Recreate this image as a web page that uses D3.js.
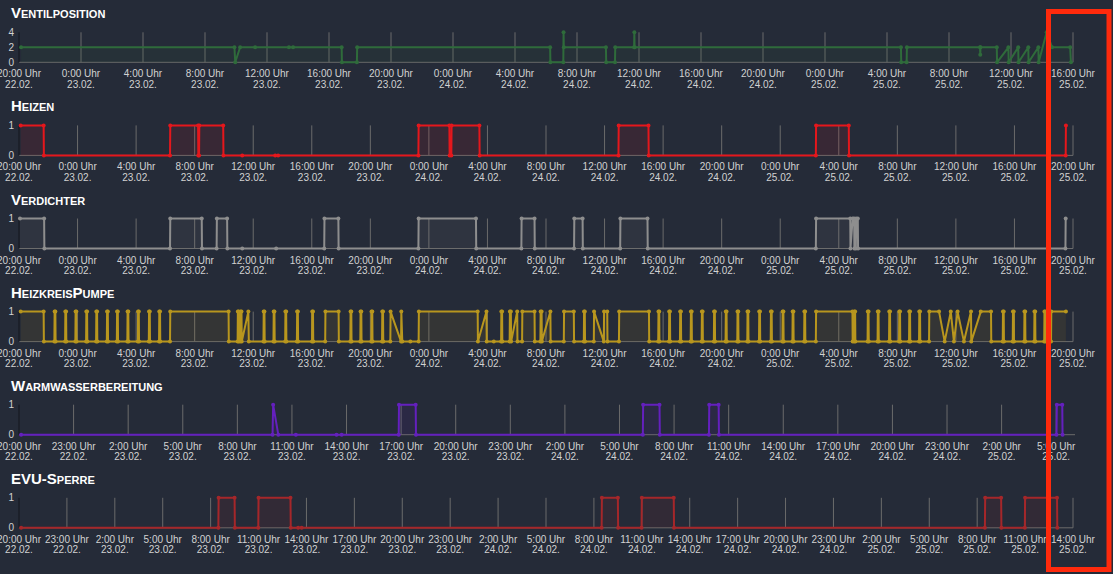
<!DOCTYPE html>
<html><head><meta charset="utf-8">
<script src="https://cdn.jsdelivr.net/npm/d3@7"></script>
<style>
body{margin:0;background:#252b38;}
svg{display:block;font-family:"Liberation Sans",Arial,sans-serif;}
</style></head>
<body><svg id="c" width="1113" height="574"></svg>
<script>
// ---------- DATA (times: "DD HH:MM" in February) ----------
const titles = ["Ventilposition","Heizen","Verdichter","HeizkreisPumpe","Warmwasserbereitung","EVU-Sperre"];
const yTicksVentil = [0,2,4];
const yTicksBinary = [0,1];
const domains = [
  ["22 20:00","25 16:00"],
  ["22 20:00","25 20:00"],
  ["22 20:00","25 20:00"],
  ["22 20:00","25 20:00"],
  ["22 20:00","25 06:02"],
  ["22 20:00","25 14:00"]
];
const tickStepHours = [4,4,4,4,3,3];

const ventil = [
["22 20:08",2],["23 09:54",2],["23 09:57",0],["23 10:16",2],["23 11:14",2],["23 13:25",2],["23 13:41",2],
["23 16:49",2],["23 16:50",0],["23 17:48",0],["23 17:49",2],["24 06:16",2],["24 06:17",0],["24 07:07",0],
["24 07:08",4],["24 07:09",2],["24 09:52",2],["24 09:53",0],["24 10:27",0],["24 10:28",2],["24 11:41",2],
["24 11:42",4],["24 11:43",2],["25 04:54",2],["25 04:55",0],["25 05:16",0],["25 05:17",2],["25 10:00",2],
["25 10:01",1],["25 10:02",2],["25 11:05",2],["25 11:06",0],["25 11:50",2],["25 11:51",0],["25 12:28",2],
["25 12:29",0],["25 13:07",2],["25 13:08",0],["25 13:46",2],["25 13:47",0],["25 14:18",4],["25 14:39",2],
["25 15:49",2],["25 15:52",0]
];
const heizen = [
["22 20:07",1],["22 21:41",1],["22 21:42",0],["23 06:19",0],["23 06:20",1],["23 08:14",1],["23 08:15",0],
["23 08:18",0],["23 08:19",1],["23 09:57",1],["23 09:58",0],["23 11:15",0],["23 13:30",0],["23 13:42",0],
["23 23:17",0],["23 23:18",1],["24 01:24",1],["24 01:25",0],["24 01:32",0],["24 01:33",1],["24 03:27",1],
["24 03:28",0],["24 12:57",0],["24 12:58",1],["24 15:00",1],["24 15:01",0],["25 02:26",0],["25 02:27",1],
["25 04:41",1],["25 04:42",0],["25 19:30",0],["25 19:31",1]
];
const verdichter = [
["22 20:04",1],["22 21:43",1],["22 21:44",0],["23 06:19",0],["23 06:20",1],["23 08:29",1],["23 08:30",0],
["23 09:30",0],["23 09:31",1],["23 10:13",1],["23 10:14",0],["23 11:15",0],["23 13:34",0],["23 16:51",0],
["23 16:52",1],["23 17:49",1],["23 17:50",0],["23 23:17",0],["23 23:18",1],["24 03:13",1],["24 03:14",0],
["24 06:19",0],["24 06:20",1],["24 07:13",1],["24 07:14",0],["24 09:55",0],["24 09:56",1],["24 10:30",1],
["24 10:31",0],["24 13:04",0],["24 13:05",1],["24 14:56",1],["24 14:57",0],["25 02:26",0],["25 02:27",1],
["25 04:47",1],["25 04:48",0],["25 04:57",1],["25 05:03",1],["25 05:04",0],["25 05:10",0],["25 05:11",1],
["25 05:18",1],["25 05:19",0],["25 19:29",0],["25 19:30",1]
];
const pumpe = [
["22 20:07",1],["22 21:41",1],["22 21:42",0],
["22 22:25",0],["22 22:26",1],["22 22:29",1],["22 22:30",0],
["22 23:09",0],["22 23:10",1],["22 23:13",1],["22 23:14",0],
["22 23:51",0],["22 23:52",1],["22 23:55",1],["22 23:56",0],
["23 00:35",0],["23 00:36",1],["23 00:39",1],["23 00:40",0],
["23 01:16",0],["23 01:17",1],["23 01:20",1],["23 01:21",0],
["23 02:00",0],["23 02:01",1],["23 02:04",1],["23 02:05",0],
["23 02:41",0],["23 02:42",1],["23 02:45",1],["23 02:46",0],
["23 03:24",0],["23 03:25",1],["23 03:28",1],["23 03:29",0],
["23 04:07",0],["23 04:08",1],["23 04:11",1],["23 04:12",0],
["23 04:52",0],["23 04:53",1],["23 04:56",1],["23 04:57",0],
["23 05:34",0],["23 05:35",1],["23 05:38",1],["23 05:39",0],
["23 06:19",0],["23 06:20",1],["23 10:19",1],["23 10:20",0],
["23 10:56",0],["23 10:57",1],["23 11:00",1],["23 11:01",0],
["23 11:07",0],["23 11:08",1],["23 11:12",1],["23 11:13",0],["23 11:40",1],["23 11:42",0],
["23 12:42",0],["23 12:43",1],["23 12:46",1],["23 12:47",0],
["23 13:23",0],["23 13:24",1],["23 13:27",1],["23 13:28",0],
["23 14:11",0],["23 14:12",1],["23 14:15",1],["23 14:16",0],
["23 14:59",0],["23 15:00",1],["23 15:03",1],["23 15:04",0],
["23 16:01",0],["23 16:02",1],["23 16:05",1],["23 16:06",0],
["23 16:55",0],["23 16:56",1],["23 17:50",1],["23 17:51",0],
["23 18:38",0],["23 18:39",1],["23 18:42",1],["23 18:43",0],
["23 19:19",0],["23 19:20",1],["23 19:23",1],["23 19:24",0],
["23 20:04",0],["23 20:05",1],["23 20:08",1],["23 20:09",0],
["23 20:48",0],["23 20:49",1],["23 20:52",1],["23 20:53",0],
["23 21:22",0],["23 21:23",1],["23 22:06",0],["23 22:07",1],["23 22:11",0],
["23 22:44",0],
["23 23:18",0],["23 23:19",1],["24 03:20",1],["24 03:21",0],["24 03:56",1],["24 03:57",0],
["24 04:26",0],
["24 04:56",0],["24 04:57",1],["24 05:00",1],["24 05:01",0],
["24 05:31",0],["24 05:32",1],["24 05:36",1],["24 05:37",0],["24 06:02",1],["24 06:03",0],
["24 06:22",0],["24 06:23",1],["24 07:13",1],["24 07:14",0],
["24 07:37",0],["24 07:38",1],["24 07:42",1],["24 07:43",0],["24 08:18",1],["24 08:19",0],
["24 09:13",0],["24 09:14",1],["24 09:54",1],["24 09:55",0],
["24 10:35",0],["24 10:36",1],["24 10:39",1],["24 10:40",0],
["24 11:16",0],["24 11:17",1],["24 11:57",0],["24 11:58",1],["24 12:11",1],["24 12:12",0],
["24 12:59",0],["24 13:00",1],["24 15:02",1],["24 15:03",0],
["24 15:40",0],["24 15:41",1],["24 15:44",1],["24 15:45",0],
["24 16:24",0],["24 16:25",1],["24 16:28",1],["24 16:29",0],
["24 17:09",0],["24 17:10",1],["24 17:13",1],["24 17:14",0],
["24 17:53",0],["24 17:54",1],["24 17:57",1],["24 17:58",0],
["24 18:38",0],["24 18:39",1],["24 18:42",1],["24 18:43",0],
["24 19:28",0],["24 19:29",1],["24 19:32",1],["24 19:33",0],
["24 20:16",0],["24 20:17",1],["24 20:20",1],["24 20:21",0],
["24 21:04",0],["24 21:05",1],["24 21:08",1],["24 21:09",0],
["24 21:45",0],["24 21:46",1],["24 21:49",1],["24 21:50",0],
["24 22:33",0],["24 22:34",1],["24 22:37",1],["24 22:38",0],
["24 23:21",0],["24 23:22",1],["24 23:25",1],["24 23:26",0],
["25 00:09",0],["25 00:10",1],["25 00:13",1],["25 00:14",0],
["25 00:50",0],["25 00:51",1],["25 00:54",1],["25 00:55",0],
["25 01:38",0],["25 01:39",1],["25 01:42",1],["25 01:43",0],
["25 02:26",0],["25 02:27",1],["25 04:56",1],["25 04:57",0],
["25 05:03",0],["25 05:04",1],["25 05:07",1],["25 05:08",0],
["25 05:58",0],["25 05:59",1],["25 06:02",1],["25 06:03",0],
["25 06:39",0],["25 06:40",1],["25 06:43",1],["25 06:44",0],
["25 07:26",0],["25 07:27",1],["25 07:30",1],["25 07:31",0],
["25 08:07",0],["25 08:08",1],["25 08:11",1],["25 08:12",0],
["25 08:48",0],["25 08:49",1],["25 08:52",1],["25 08:53",0],
["25 09:29",0],["25 09:30",1],["25 09:33",1],["25 09:34",0],
["25 10:10",0],["25 10:11",1],["25 10:51",1],["25 11:14",0],["25 11:39",1],["25 11:52",0],["25 12:07",1],
["25 12:33",0],["25 13:02",1],["25 13:03",0],["25 13:42",1],["25 14:24",1],["25 14:25",0],
["25 15:12",0],["25 15:13",1],["25 15:16",1],["25 15:17",0],
["25 15:53",0],["25 15:54",1],["25 15:57",1],["25 15:58",0],
["25 16:40",0],["25 16:41",1],["25 16:44",1],["25 16:45",0],
["25 17:21",0],["25 17:22",1],["25 17:25",1],["25 17:26",0],
["25 18:02",0],["25 18:03",1],["25 18:06",1],["25 18:07",0],
["25 18:30",0],["25 18:31",1],["25 19:31",1]
];
const warmwasser = [
["22 20:07",0],["23 09:56",0],["23 09:58",1],["23 10:15",0],["23 11:13",0],["23 13:27",0],["23 13:44",0],
["23 16:52",0],["23 16:53",1],["23 17:48",1],["23 17:49",0],["24 06:17",0],["24 06:18",1],["24 07:12",1],
["24 07:13",0],["24 09:55",0],["24 09:56",1],["24 10:27",1],["24 10:28",0],["25 05:01",0],["25 05:02",1],
["25 05:20",1],["25 05:21",0]
];
const evu = [
["22 20:08",0],["23 08:29",0],["23 08:30",1],["23 09:30",1],["23 09:31",0],["23 10:59",0],["23 11:00",1],
["23 13:00",1],["23 13:01",0],["23 13:29",0],["23 13:42",0],["24 08:29",0],["24 08:30",1],["24 09:30",1],
["24 09:31",0],["24 10:59",0],["24 11:00",1],["24 13:00",1],["24 13:01",0],["25 08:29",0],["25 08:30",1],
["25 09:30",1],["25 09:31",0],["25 10:59",0],["25 11:00",1],["25 13:00",1],["25 13:01",0]
];

// ---------- STYLE ----------
const seriesList = [ventil, heizen, verdichter, pumpe, warmwasser, evu];
const colors = ["#2f6b3b","#e5171c","#8e8e8e","#b8961e","#6420be","#a5272a"];
const yTickSets = [yTicksVentil, yTicksBinary, yTicksBinary, yTicksBinary, yTicksBinary, yTicksBinary];
const xEnds = [1073,1073,1073,1073,1075,1073];

const parse = s => d3.timeParse("%Y-%m-%d %H:%M")("2025-02-" + s);
const fmtTime = d3.timeFormat("%-H:%M Uhr");
const fmtDate = d3.timeFormat("%d.%m.");

const svg = d3.select("#c");
svg.append("rect").attr("width",1113).attr("height",574).attr("fill","#252b38");

titles.forEach((title, i) => {
  const top = 32.3 + i * 93.1, bot = top + 30;
  const dom = domains[i].map(parse);
  const x = d3.scaleTime().domain(dom).range([19, xEnds[i]]);
  const yt = yTickSets[i];
  const y = d3.scaleLinear().domain([0, d3.max(yt)]).range([bot, top]);
  const g = svg.append("g");

  g.append("text").attr("x", 11).attr("y", top - 14)
    .attr("fill", "#ffffff").attr("font-size", 15).attr("font-weight", 700)
    .style("font-variant", "small-caps").text(title);

  const ticks = d3.timeHour.range(dom[0], new Date(+dom[1] + 1), tickStepHours[i]);
  // grid
  g.selectAll("line.grid").data(ticks.filter(t => x(t) > 20)).join("line")
    .attr("x1", d => x(d)).attr("x2", d => x(d)).attr("y1", top).attr("y2", bot)
    .attr("stroke", "#6b6b6b").attr("stroke-width", 1);
  // x baseline
  g.append("line").attr("x1", 19).attr("x2", xEnds[i]).attr("y1", bot).attr("y2", bot)
    .attr("stroke", "#6b6b6b").attr("stroke-width", 1);
  // y axis line
  g.append("line").attr("x1", 19).attr("x2", 19).attr("y1", top).attr("y2", bot)
    .attr("stroke", "#14171d").attr("stroke-width", 1);
  // x tick labels
  const lbl = g.selectAll("text.xl").data(ticks).join("text")
    .attr("text-anchor", "middle").attr("fill", "#d2d2d2").attr("font-size", 10);
  lbl.append("tspan").attr("x", d => x(d)).attr("y", bot + 15).text(d => fmtTime(d));
  lbl.append("tspan").attr("x", d => x(d)).attr("y", bot + 25.5).text(d => fmtDate(d));
  // y tick labels
  g.selectAll("text.yl").data(yt).join("text")
    .attr("x", 14).attr("y", d => y(d) + 3.5).attr("text-anchor", "end")
    .attr("fill", "#d2d2d2").attr("font-size", 10).text(d => d);

  const pts = seriesList[i].map(([t, v]) => ({t: parse(t), v}));
  const col = d3.color(colors[i]);
  const fillCol = col.copy({opacity: 0.1});
  g.append("path").datum(pts)
    .attr("d", d3.area().x(d => x(d.t)).y0(bot).y1(d => y(d.v)))
    .attr("fill", fillCol.toString());
  g.append("path").datum(pts)
    .attr("d", d3.line().x(d => x(d.t)).y(d => y(d.v)))
    .attr("fill", "none").attr("stroke", colors[i]).attr("stroke-width", 2)
    .attr("stroke-linejoin", "round");
  g.selectAll("circle").data(pts).join("circle")
    .attr("cx", d => x(d.t)).attr("cy", d => y(d.v)).attr("r", 2)
    .attr("fill", colors[i]);
});

// highlight annotation
svg.append("rect").attr("x", 1048.5).attr("y", 11.5).attr("width", 60.5).attr("height", 558)
  .attr("fill", "none").attr("stroke", "#ff2a0c").attr("stroke-width", 5);
</script></body></html>
